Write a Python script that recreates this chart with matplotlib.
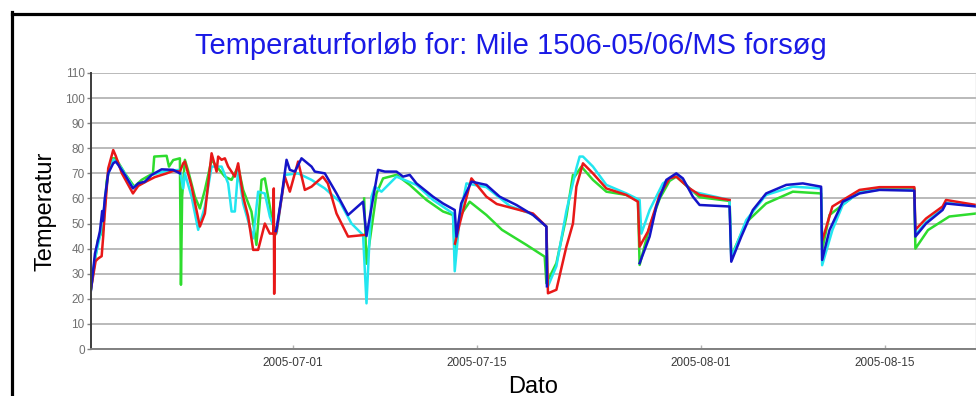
import numpy as np
import matplotlib

matplotlib.use("Agg")

import matplotlib.pyplot as plt
import matplotlib.dates as mdates
from datetime import datetime

plt.rcParams["font.family"] = ["Liberation Sans", "DejaVu Sans"]

# tid = dage efter 2005-06-01, nan = ingen maaling
START = datetime(2005, 6, 1)
nan = np.nan

rod_t = [14.65, 15.00, 15.18, 15.46, 15.58, 15.64, 15.96, 16.34, 16.53, 17.00, 17.84, 18.24,
         18.75, 19.50, 20.40, 20.90, 21.41, 21.66, 21.79, 22.30, 22.93, 23.31, 23.82, 24.20,
         24.32, 24.58, 24.83, 25.08, 25.59, 25.84, 26.22, 26.60, 26.98, 27.36, 27.87, 28.25,
         28.52, 28.55, 28.58, 28.62, 28.76, 29.39, 29.77, 30.40, 30.91, 31.42, 32.28, 32.66,
         33.32, 34.20, 35.34, 35.47, 35.50,
         42.33, 42.69, 43.58, 44.72, 45.50, 46.80, 48.26, 49.28, 49.40, 50.04, 50.80, 51.30,
         51.56, 52.06, 52.82, 53.84, 55.36, 56.24, 56.37, 57.00, 57.89, 58.65, 59.16, 60.17,
         60.93, 63.21, 63.25,
         70.27, 71.03, 73.09, 74.61, 77.26, 77.34, 78.15, 79.41, 79.67, 81.95]
rod_v = [24, 35, 36, 37, 45, 50, 72, 79.3, 77, 70, 62, 65,
         66.5, 68.5, 70, 71, 70.7, 74, 74.7, 64.7, 48.8, 54, 78, 70.7,
         76.7, 75.4, 76, 72.7, 68.7, 74, 60.7, 52.8, 39.5, 39.5, 50, 46,
         46, 64, 22, 45, 47, 68.7, 62.7, 74.7, 63.4, 64.7, 68.7, 66,
         54, 44.8, 45.4, 45.5, nan,
         42, 50, 68, 60.7, 57.8, 56, 54, 48.8, 22.2, 23.6, 40.8, 50,
         64.7, 74, 70, 64, 61.4, 58.7, 40.8, 46.8, 61.4, 68, 68.7, 64,
         61.4, 59.4, nan,
         43.5, 56.8, 63.4, 64.5, 64.5, 47.5, 52, 56.8, 59.4, 57.4]

groen_t = [14.65, 15.18, 15.58, 15.84, 16.22, 16.53, 17.23, 17.94, 18.50, 19.36, 19.46, 20.40,
           20.58, 20.90, 21.41, 21.49, 21.58, 21.79, 22.04, 22.55, 22.93, 23.31, 23.82, 24.32,
           24.83, 25.34, 25.84, 26.22, 26.85, 27.23, 27.62, 27.87, 28.25, 28.45, 28.76, 28.80,
           35.42, 35.60, 36.36, 36.86, 37.88, 38.89, 40.16, 41.42, 42.18, 42.31, 42.69, 43.45,
           44.72, 45.90, 47.76, 49.15, 49.28, 50.04, 50.80, 51.30, 51.43, 51.94, 52.82, 53.84,
           55.36, 56.24, 56.37, 57.13, 57.90, 58.65, 59.16, 60.17, 60.93, 63.21, 63.34, 64.48,
           65.99, 68.02, 70.17, 70.27, 70.81, 73.09, 74.61, 77.26, 77.34, 78.30, 79.92, 81.95]
groen_v = [24, 43.5, 47.6, 67, 76, 76, 70, 64.7, 67.4, 70, 76.7, 77,
           72.7, 75.3, 76, 25.6, 60.7, 75.4, 71, 60.7, 56, 63.4, 75.4, 72,
           68.7, 67.4, 72.7, 63.4, 54.8, 41.5, 67.4, 68, 56.8, 50, 47, nan,
           60, 34, 62, 68, 69.4, 65.4, 59.4, 54.8, 53.4, 38, 52.8, 58.7,
           53.4, 47.5, 41.5, 36.8, 26.2, 34.2, 52.8, 69.4, 68.7, 72.7, 67.4, 62.7,
           61.4, 59.4, 33.5, 48.8, 60, 67, 68.7, 64, 60.5, 59, 37, 50.5,
           58, 62.7, 62, 40, 53.4, 62.7, 64, 64, 40, 47.4, 52.8, 54]

cyan_t = [14.65, 14.95, 15.33, 15.50, 15.96, 16.34, 16.72, 17.23, 17.84, 18.75, 19.26, 20.40,
          21.41, 21.66, 21.79, 22.30, 22.80, 23.31, 23.82, 24.58, 25.08, 25.34, 25.59, 25.84,
          26.22, 26.98, 27.36, 27.87, 28.25, 28.76, 29.39, 30.40, 31.42, 32.43, 33.57, 34.46,
          35.34, 35.60, 35.98, 36.23, 36.74, 37.88, 39.40, 40.66, 42.18, 42.31, 42.69, 43.20,
          44.72, 46.50, 48.26, 49.28, 49.40, 50.04, 50.80, 51.56, 51.81, 52.06, 52.82, 53.84,
          55.36, 56.37, 56.50, 57.13, 58.14, 59.16, 60.42, 63.21, 63.34, 64.48, 65.99, 68.02,
          70.17, 70.25, 71.03, 71.82, 73.09, 74.61, 77.26, 77.34, 78.15, 79.41, 79.67, 81.95]
cyan_v = [24, 36, 45, 50, 70, 75.5, 74, 69.8, 64.5, 66.5, 69.4, 71,
          71.4, 64, 70, 60.7, 47.5, 56.8, 72.7, 72.7, 66, 54.8, 54.8, 71.4,
          58, 44.1, 62.7, 62, 52.8, 46, 69.4, 70, 67.4, 64, 58.7, 50,
          45.4, 18.2, 60.7, 64.7, 62.7, 68.7, 65.4, 59.4, 54, 31, 52.8, 66,
          64.5, 57, 53.6, 48.8, 25, 33, 55, 72, 76.7, 76.7, 72.7, 65.4,
          62, 59.4, 46, 55.4, 66, 69.4, 62.7, 59.4, 36.2, 51.4, 61.4, 64.7,
          64, 33.4, 47.4, 57.5, 62.5, 63.5, 63.4, 45.5, 50.5, 56, 58.3, 57]

blaa_t = [14.65, 14.95, 15.33, 15.50, 15.56, 15.70, 15.96, 16.34, 16.53, 16.72, 17.23, 17.84,
          18.24, 18.75, 19.26, 20.02, 20.90, 21.41, 21.45,
          28.70, 28.76, 29.14, 29.52, 29.77, 30.15, 30.66, 31.42, 31.67, 32.43, 33.32, 34.20,
          35.34, 35.60, 36.48, 37.00, 37.88, 38.38, 38.89, 39.40, 40.66, 41.42, 42.31, 42.44,
          42.80, 43.58, 44.72, 45.73, 47.00, 48.26, 49.28, 49.32, 49.36,
          56.37, 57.13, 57.64, 58.40, 59.16, 59.66, 60.42, 60.93, 63.21, 63.34, 64.10, 64.98,
          65.99, 67.52, 68.78, 70.17, 70.25, 70.81, 71.82, 73.09, 74.61, 77.26, 77.34, 78.15,
          79.41, 79.67, 81.95]
blaa_v = [23.5, 38, 47, 55, 51, 60, 70, 74, 74.7, 73.4, 69.4, 64,
          66, 66.7, 69.4, 71.6, 71.4, 70, nan,
          47, 48, 60.7, 75.4, 71.4, 70.7, 76, 72.7, 70.7, 70, 62, 53.4,
          58.7, 45, 71.4, 70.7, 70.7, 68.7, 69.4, 66, 60.7, 58, 55.4, 44.8,
          58, 66.7, 65.4, 60.7, 57.4, 53.4, 48.8, 25, nan,
          34.2, 44.8, 56.8, 67.4, 70, 68, 60.7, 57.4, 56.8, 34.8, 44.8, 55.4,
          62, 65.4, 66, 64.7, 35.5, 47.4, 58.7, 62, 63.4, 63.1, 44.8, 50,
          55.4, 58, 56.8]

x_ticks = [datetime(2005, 7, 1), datetime(2005, 7, 15), datetime(2005, 8, 1), datetime(2005, 8, 15)]
y_ticks = list(range(0, 111, 10))

serier = [
    (groen_t, groen_v, "#2edc2e"),
    (cyan_t, cyan_v, "#22e6f0"),
    (rod_t, rod_v, "#e81818"),
    (blaa_t, blaa_v, "#1414c8"),
]


def main():
    fig = plt.figure(figsize=(9.76, 3.96), dpi=100)
    ax = fig.add_axes([91 / 976, 47 / 396, 885 / 976, 276 / 396])

    t0 = mdates.date2num(START)
    for t, v, farve in serier:
        ax.plot(t0 + np.asarray(t, dtype=float), np.asarray(v, dtype=float),
                color=farve, linewidth=1.8, solid_joinstyle="round")

    ax.set_xlim(t0 + 14.65, t0 + 81.95)
    ax.set_ylim(0, 110)
    ax.set_yticks(y_ticks)
    ax.set_xticks(mdates.date2num(x_ticks))
    ax.xaxis.set_major_formatter(mdates.DateFormatter("%Y-%m-%d"))
    ax.grid(True, axis="y", color="#b4b4b4", linewidth=1.3)
    ax.set_axisbelow(True)

    ax.spines["top"].set_visible(False)
    ax.spines["left"].set_color("#3c3c3c")
    ax.spines["left"].set_linewidth(1.4)
    ax.spines["bottom"].set_color("#808080")
    ax.spines["bottom"].set_linewidth(1.4)
    ax.spines["right"].set_color("#c8c8c8")
    ax.spines["right"].set_linewidth(1.0)

    ax.tick_params(axis="y", direction="out", length=3, width=1, color="#808080",
                   labelsize=8.5, labelcolor="#707070", pad=1.5)
    ax.tick_params(axis="x", direction="in", length=3, width=1, color="#b0b0b0",
                   labelsize=8.5, labelcolor="#3a3a3a", pad=6)

    ax.set_xlabel("Dato", fontsize=17, labelpad=4.5)
    ax.set_ylabel("Temperatur", fontsize=17, labelpad=6)

    fig.text(511 / 976, 1 - 46 / 396, "Temperaturforløb for: Mile 1506-05/06/MS forsøg",
             ha="center", va="center", fontsize=21, color="#1a1ae6")

    # sort ramme oppe og til venstre
    fig.add_artist(plt.Line2D([11.5 / 976, 1.0], [1 - 13.5 / 396] * 2, color="black",
                              linewidth=2.3, transform=fig.transFigure))
    fig.add_artist(plt.Line2D([11.5 / 976] * 2, [0.0, 1 - 12.3 / 396], color="black",
                              linewidth=2.3, transform=fig.transFigure))

    fig.savefig("out.png", dpi=100)
    plt.close(fig)


if __name__ == "__main__":
    main()
